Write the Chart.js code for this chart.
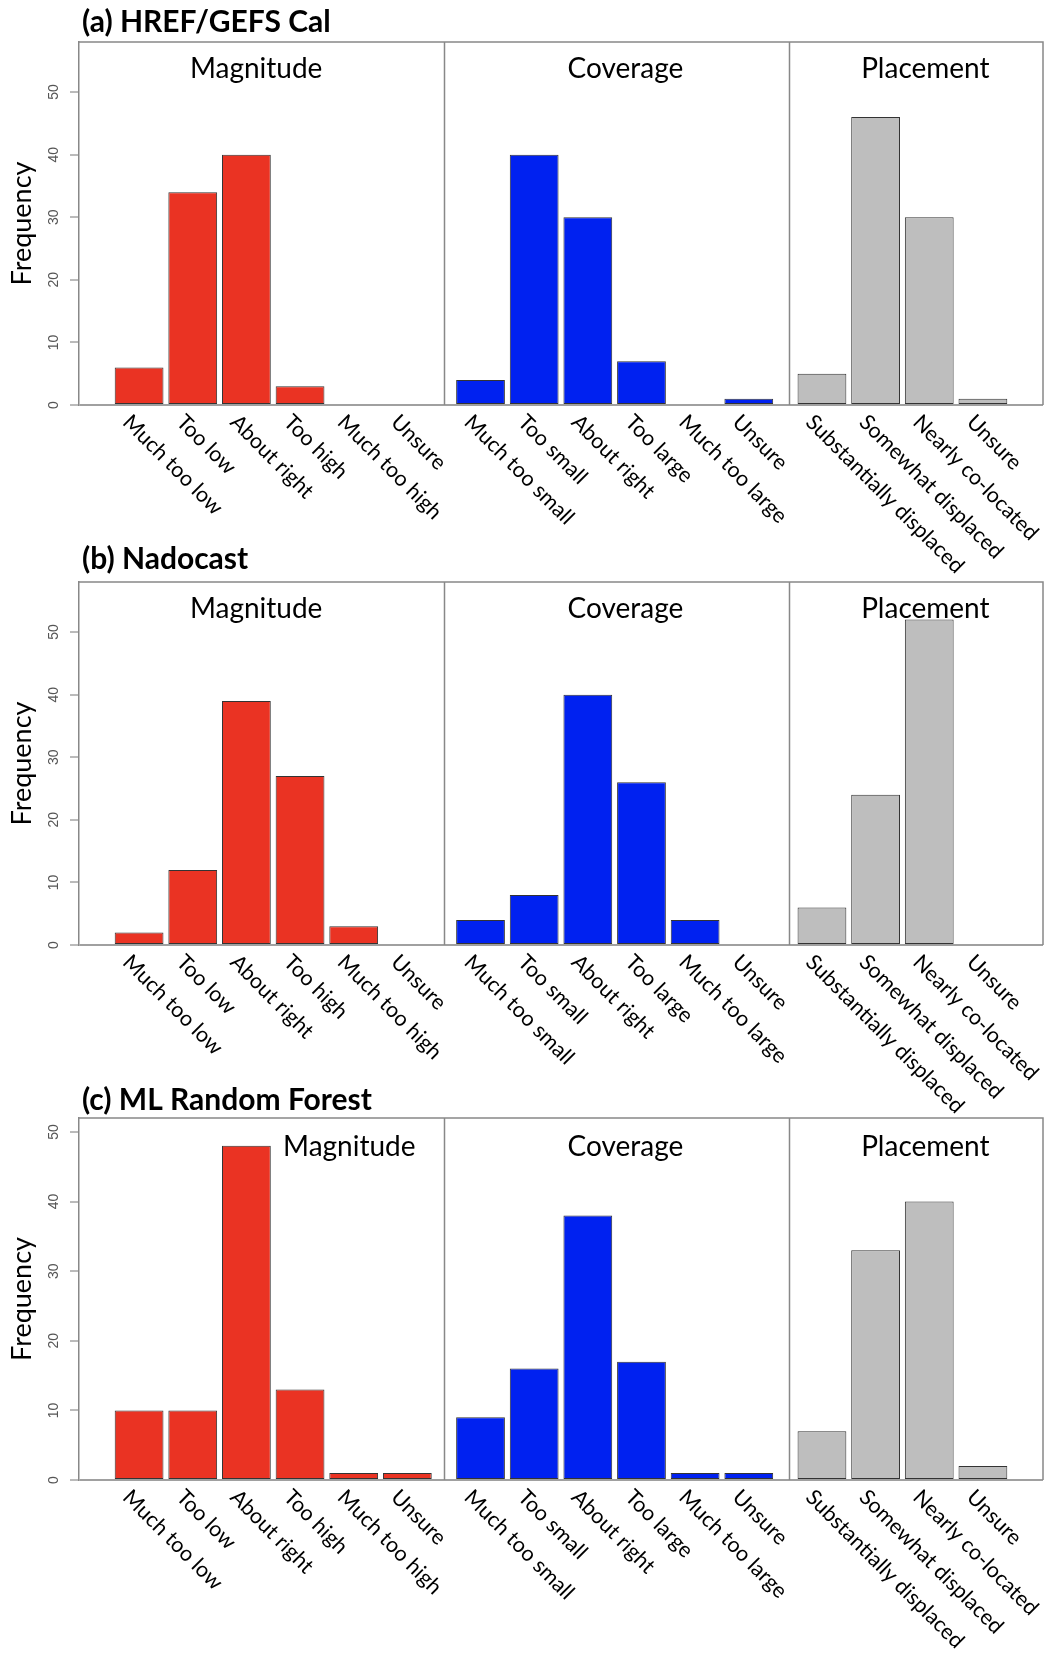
<!DOCTYPE html>
<html>
<head>
<meta charset="utf-8">
<script src="https://cdn.jsdelivr.net/npm/chart.js@4/dist/chart.umd.min.js"></script>
<style>
  html, body { margin: 0; padding: 0; background: #ffffff; overflow: hidden; }
  #wrap { position: relative; width: 1045px; height: 1653px; background: #ffffff; }
  canvas { position: absolute; left: 0; }
</style>
</head>
<body>
<div id="wrap">
  <canvas id="rowA" width="1045" height="600" style="top:0px"></canvas>
  <canvas id="rowB" width="1045" height="600" style="top:540px"></canvas>
  <canvas id="rowC" width="1045" height="577" style="top:1076px"></canvas>
</div>
<script>
// ---------------- data ----------------
const panelTitles = ['(a) HREF/GEFS Cal', '(b) Nadocast', '(c) ML Random Forest'];
const groupNames = ['Magnitude', 'Coverage', 'Placement'];
const magnitudeLabels = ['Much too low', 'Too low', 'About right', 'Too high', 'Much too high', 'Unsure'];
const coverageLabels = ['Much too small', 'Too small', 'About right', 'Too large', 'Much too large', 'Unsure'];
const placementLabels = ['Substantially displaced', 'Somewhat displaced', 'Nearly co-located', 'Unsure'];
const yTickValues = [0, 10, 20, 30, 40, 50];
const yAxisTitle = 'Frequency';

const hrefMagnitude = [6, 34, 40, 3, 0, 0];
const hrefCoverage = [4, 40, 30, 7, 0, 1];
const hrefPlacement = [5, 46, 30, 1];

const nadocastMagnitude = [2, 12, 39, 27, 3, 0];
const nadocastCoverage = [4, 8, 40, 26, 4, 0];
const nadocastPlacement = [6, 24, 52, 0];

const rfMagnitude = [10, 10, 48, 13, 1, 1];
const rfCoverage = [9, 16, 38, 17, 1, 1];
const rfPlacement = [7, 33, 40, 2];

const yAxisMax = [58, 58, 52];

// ---------------- layout / style ----------------
const groupLabels = [magnitudeLabels, coverageLabels, placementLabels];
const groupColors = ['#EA3323', '#0021F0', '#BEBEBE'];
const fontMain = 'Lato';

// R-barplot-like slot positions: width 1, space 0.1 inside groups, 0.5 between groups
function slotPositions() {
  const centers = [];
  let edge = 0;
  groupLabels.forEach((labs, g) => {
    const arr = [];
    labs.forEach((_, i) => {
      edge += (i === 0 && g > 0) ? 0.5 : 0.1;
      arr.push(edge + 0.5);
      edge += 1;
    });
    centers.push(arr);
  });
  const lo = 0.1, hi = edge, ext = 0.04 * (hi - lo);
  return { centers, min: lo - ext, max: hi + ext };
}
const slots = slotPositions();
const allCenters = slots.centers.flat();
const dividerAt = [6.86, 13.93];

const rows = [
  { canvas: 'rowA', title: panelTitles[0], series: [hrefMagnitude, hrefCoverage, hrefPlacement],
    yMax: yAxisMax[0], labelAt: [3.0, 10.57, 16.72], labelDy: 27, titleDy: 10, padBottom: 195 },
  { canvas: 'rowB', title: panelTitles[1], series: [nadocastMagnitude, nadocastCoverage, nadocastPlacement],
    yMax: yAxisMax[1], labelAt: [3.0, 10.57, 16.72], labelDy: 27, titleDy: 13, padBottom: 195 },
  { canvas: 'rowC', title: panelTitles[2], series: [rfMagnitude, rfCoverage, rfPlacement],
    yMax: yAxisMax[2], labelAt: [4.91, 10.57, 16.72], labelDy: 29, titleDy: 8, padBottom: 173 }
];

function decorPlugin(row) {
  return {
    id: 'decor',
    afterDraw(chart) {
      const { ctx, chartArea: a, scales: { x } } = chart;
      ctx.save();
      // frame (top, right) and group dividers
      ctx.strokeStyle = '#888888';
      ctx.lineWidth = 1.5;
      ctx.beginPath();
      ctx.moveTo(a.left, a.top);
      ctx.lineTo(a.right, a.top);
      ctx.lineTo(a.right, a.bottom);
      dividerAt.forEach(u => {
        const px = Math.round(x.getPixelForValue(u)) + 0.5;
        ctx.moveTo(px, a.top);
        ctx.lineTo(px, a.bottom);
      });
      ctx.stroke();

      // panel title
      ctx.fillStyle = '#000000';
      ctx.font = 'bold 30px ' + fontMain;
      ctx.textAlign = 'left';
      ctx.textBaseline = 'alphabetic';
      ctx.fillText(row.title, a.left + 3, a.top - row.titleDy);

      // group names
      ctx.font = '28px ' + fontMain;
      ctx.textAlign = 'center';
      ctx.textBaseline = 'middle';
      groupNames.forEach((n, g) => {
        ctx.fillText(n, x.getPixelForValue(row.labelAt[g]), a.top + row.labelDy);
      });

      // rotated category labels
      ctx.font = '21.5px ' + fontMain;
      ctx.textAlign = 'left';
      ctx.textBaseline = 'top';
      groupLabels.forEach((labs, g) => {
        labs.forEach((t, i) => {
          const px = x.getPixelForValue(slots.centers[g][i]);
          ctx.save();
          ctx.translate(px - 5, a.bottom + 6);
          ctx.rotate(Math.PI / 4);
          ctx.fillText(t, 0, 0);
          ctx.restore();
        });
      });
      ctx.restore();
    }
  };
}

Chart.defaults.font.family = fontMain;

rows.forEach(row => {
  const datasets = row.series.map((vals, g) => ({
    label: groupNames[g],
    data: vals.map((v, i) => ({ x: slots.centers[g][i], y: v })),
    backgroundColor: groupColors[g],
    borderColor: '#333333',
    borderWidth: 1,
    borderSkipped: false,
    grouped: false,
    categoryPercentage: 1,
    barPercentage: 1 / 1.1
  }));

  new Chart(document.getElementById(row.canvas), {
    type: 'bar',
    data: { datasets },
    options: {
      responsive: false,
      animation: false,
      events: [],
      layout: { padding: { top: 42, right: 2, bottom: row.padBottom, left: 0 } },
      plugins: { legend: { display: false }, tooltip: { enabled: false }, title: { display: false } },
      scales: {
        x: {
          type: 'linear',
          min: slots.min,
          max: slots.max,
          offset: false,
          grid: { offset: false },
          display: false,
          afterBuildTicks: s => { s.ticks = allCenters.map(v => ({ value: v })); }
        },
        y: {
          min: 0,
          max: row.yMax,
          afterBuildTicks: s => { s.ticks = yTickValues.map(v => ({ value: v })); },
          afterFit: s => { s.width = 79; },
          border: { display: true, color: '#888888', width: 1.5 },
          grid: {
            drawOnChartArea: true,
            color: c => (c.tick && c.tick.value === 0) ? '#a0a0a0' : 'rgba(0,0,0,0)',
            lineWidth: c => (c.tick && c.tick.value === 0) ? 2 : 0,
            tickColor: '#777777',
            tickWidth: 1,
            tickLength: 9
          },
          ticks: {
            minRotation: 90,
            maxRotation: 90,
            crossAlign: 'center',
            padding: 8,
            color: '#555555',
            font: { family: 'Liberation Sans', size: 14 }
          },
          title: {
            display: true,
            text: yAxisTitle,
            color: '#000000',
            font: { family: fontMain, size: 27 },
            padding: { top: 6, bottom: 0 }
          }
        }
      }
    },
    plugins: [decorPlugin(row)]
  });
});
</script>
</body>
</html>
